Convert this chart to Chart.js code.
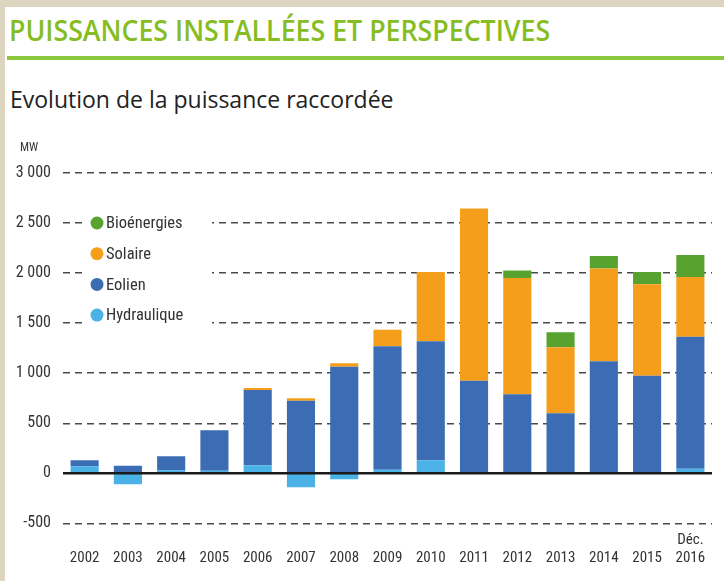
<!DOCTYPE html>
<html>
<head>
<meta charset="utf-8">
<script src="https://cdn.jsdelivr.net/npm/chart.js@4.4.0/dist/chart.umd.min.js"></script>
<style>
  html, body { margin: 0; padding: 0; }
  body { width: 724px; height: 581px; background: #ddd5c0; overflow: hidden; position: relative; }
  #panel { position: absolute; left: 5px; top: 7px; right: 0; bottom: 0; background: #fff; }
  #titre { position: absolute; left: 9px; top: 11px; font: 600 28px 'Open Sans', sans-serif; color: #86bd22;
           transform-origin: left top; transform: scaleX(0.955); white-space: nowrap; }
  #trait { position: absolute; left: 7px; top: 56px; right: 0; height: 4px; background: #8cc63f; }
  #sousTitre { position: absolute; left: 10px; top: 83px; font: 23px 'Open Sans', sans-serif; color: #222; white-space: nowrap; }
  #graph { position: absolute; left: 0; top: 0; }
</style>
</head>
<body>
<div id="panel"></div>
<div id="titre">PUISSANCES INSTALLÉES ET PERSPECTIVES</div>
<div id="trait"></div>
<div id="sousTitre">Evolution de la puissance raccordée</div>
<canvas id="graph" width="724" height="581"></canvas>

<script>
// Données (MW)
const annees = [['', '2002'], ['', '2003'], ['', '2004'], ['', '2005'], ['', '2006'], ['', '2007'], ['', '2008'],
  ['', '2009'], ['', '2010'], ['', '2011'], ['', '2012'], ['', '2013'], ['', '2014'], ['', '2015'], ['Déc.', '2016']];
const hydraulique = [70, -110, 30, 25, 80, -140, -60, 35, 130, 0, 0, 0, 0, 0, 45];
const eolien = [60, 75, 140, 405, 753, 725, 1065, 1235, 1190, 925, 790, 600, 1120, 975, 1320];
const solaire = [0, 0, 0, 0, 20, 25, 35, 165, 690, 1720, 1160, 660, 925, 915, 595];
const bioenergies = [0, 0, 0, 0, 0, 0, 0, 0, 0, 0, 75, 150, 125, 120, 220];
const graduationsY = [-500, 0, 500, 1000, 1500, 2000, 2500, 3000];

const police = "'Liberation Sans Narrow', 'Roboto Condensed', Roboto, sans-serif";

// légende dans la zone du graphique + unité + ligne du zéro
const decor = {
  id: 'decor',
  beforeDatasetsDraw(chart) {
    const ctx = chart.ctx;
    ctx.save();
    ctx.fillStyle = '#fff';
    ctx.fillRect(86, 206, 126, 124);
    const items = chart.data.datasets.slice().reverse();
    items.forEach((ds, i) => {
      const y = 223 + i * 30.7;
      ctx.beginPath();
      ctx.arc(97, y, 6.5, 0, Math.PI * 2);
      ctx.fillStyle = ds.backgroundColor;
      ctx.fill();
      ctx.fillStyle = '#333';
      ctx.font = '16.5px ' + police;
      ctx.textBaseline = 'middle';
      ctx.fillText(ds.label, 106, y + 1);
    });
    ctx.restore();
  },
  afterDatasetsDraw(chart) {
    const ctx = chart.ctx;
    const area = chart.chartArea;
    const y0 = chart.scales.y.getPixelForValue(0);
    ctx.save();
    ctx.strokeStyle = '#1a1a1a';
    ctx.lineWidth = 2.5;
    ctx.beginPath();
    ctx.moveTo(area.left, y0);
    ctx.lineTo(area.right, y0);
    ctx.stroke();
    ctx.fillStyle = '#333';
    ctx.font = '12px ' + police;
    ctx.textBaseline = 'middle';
    ctx.fillText('MW', 20, 148);
    ctx.restore();
  }
};

new Chart(document.getElementById('graph'), {
  type: 'bar',
  data: {
    labels: annees,
    datasets: [
      { label: 'Hydraulique', data: hydraulique, backgroundColor: '#4ab2e6' },
      { label: 'Eolien', data: eolien, backgroundColor: '#3c6db4' },
      { label: 'Solaire', data: solaire, backgroundColor: '#f59e1b' },
      { label: 'Bioénergies', data: bioenergies, backgroundColor: '#58a22f' }
    ]
  },
  options: {
    responsive: false,
    animation: false,
    layout: { padding: { top: 173, right: 12, bottom: 0, left: 5 } },
    datasets: { bar: { categoryPercentage: 1, barPercentage: 0.65, borderWidth: 0 } },
    plugins: { legend: { display: false }, tooltip: { enabled: false } },
    scales: {
      x: {
        stacked: true,
        grid: { display: false, drawTicks: false },
        border: { display: false },
        ticks: { color: '#333', font: { family: police, size: 15 }, padding: 8, maxRotation: 0, autoSkip: false },
        afterFit: (s) => { s.height = 57.6; }
      },
      y: {
        stacked: true,
        min: -500,
        max: 3000,
        afterBuildTicks: (s) => { s.ticks = graduationsY.map(v => ({ value: v })); },
        grid: {
          drawTicks: false,
          color: (c) => (c.tick && c.tick.value === 0 ? 'rgba(0,0,0,0)' : '#4a4a4a'),
          lineWidth: 1.5
        },
        border: { display: false, dash: [7, 5] },
        ticks: {
          color: '#333',
          font: { family: police, size: 16 },
          padding: 12,
          callback: (v) => String(v).replace(/\B(?=(\d{3})+(?!\d))/g, ' ')
        },
        afterFit: (s) => { s.width = 58; }
      }
    }
  },
  plugins: [decor]
});
</script>
</body>
</html>
